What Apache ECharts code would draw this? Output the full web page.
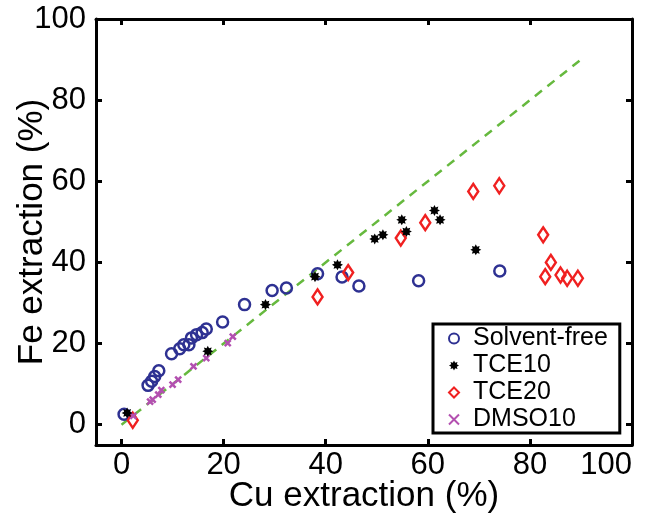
<!DOCTYPE html>
<html><head><meta charset="utf-8">
<script src="https://cdn.jsdelivr.net/npm/echarts@6/dist/echarts.min.js"></script>
<style>html,body{margin:0;padding:0;background:#fff}#c{width:645px;height:522px}</style>
</head><body><div id="c"></div>
<script>
const xTicks = [0, 20, 40, 60, 80, 100];
const yTicks = [0, 20, 40, 60, 80, 100];
const seriesNames = ['Solvent-free', 'TCE10', 'TCE20', 'DMSO10'];
const solventFreeX = [0.5,5.2,5.9,6.5,7.3,9.8,11.4,12.2,13.2,13.7,14.7,15.8,16.6,19.8,24.1,29.5,32.3,38.4,43.2,46.5,58.2,74.1];
const solventFreeY = [2.6,9.7,10.7,11.9,13.3,17.5,18.7,19.7,19.7,21.4,22.2,22.7,23.6,25.3,29.6,33.1,33.7,37.2,36.4,34.2,35.5,37.9];
const tce10X = [1.1,16.9,28.2,37.9,42.3,49.6,51.2,54.9,55.8,61.3,62.4,69.4];
const tce10Y = [2.9,18.1,29.6,36.5,39.4,45.8,46.8,50.5,47.6,52.8,50.5,43.1];
const tce20X = [2.2,38.4,44.4,54.7,59.5,68.9,74.0,82.6,84.1,83.0,86.0,87.3,89.4];
const tce20Y = [1.1,31.5,37.5,46.0,49.8,57.5,58.9,46.8,40.0,36.5,36.9,36.1,36.1];
const dmso10X = [2.3,5.6,6.1,7.2,7.8,10.0,11.1,14.1,16.6,20.8,21.8];
const dmso10Y = [2.2,5.7,6.2,7.4,8.5,9.9,11.1,14.4,16.4,20.1,21.7];
const refLineX = [0, 90];
const refLineY = [0, 90];

function pairs(xs, ys) { return xs.map((x, i) => [x, ys[i]]); }

// asterisk-like star symbol
let star = 'path://';
for (let i = 0; i < 16; i++) {
  const a = Math.PI * i / 8;
  const r = i % 2 === 0 ? 10 : 6;
  star += (i === 0 ? 'M' : 'L') + (10 + r * Math.sin(a)).toFixed(2) + ' ' + (10 - r * Math.cos(a)).toFixed(2) + ' ';
}
star += 'Z';
const cross = 'path://M0 0 L10 10 M10 0 L0 10';

const font = 'Liberation Sans, Arial, sans-serif';
const axisCommon = {
  min: -5, max: 100,
  splitLine: { show: false },
  axisLine: { show: true, onZero: false, lineStyle: { color: '#000', width: 3 } },
  axisTick: { show: true, inside: true, length: 6, customValues: xTicks, lineStyle: { color: '#000', width: 3 } }
};

const chart = echarts.init(document.getElementById('c'));
chart.setOption({
  animation: false,
  backgroundColor: '#fff',
  grid: { left: 96, right: 13, top: 19, bottom: 77, containLabel: false, outerBoundsMode: 'none' },
  xAxis: [
    Object.assign({}, axisCommon, {
      type: 'value', position: 'bottom',
      name: 'Cu extraction (%)', nameLocation: 'middle', nameGap: 34, nameMoveOverlap: false,
      nameTextStyle: { fontFamily: font, fontSize: 35, color: '#000' },
      axisLabel: { customValues: xTicks, fontFamily: font, fontSize: 31, color: '#000', margin: 5, alignMaxLabel: 'right' }
    }),
    Object.assign({}, axisCommon, { type: 'value', position: 'top', axisLabel: { show: false } })
  ],
  yAxis: [
    Object.assign({}, axisCommon, {
      type: 'value', position: 'left',
      axisTick: Object.assign({}, axisCommon.axisTick, { customValues: yTicks }),
      name: 'Fe extraction (%)', nameLocation: 'middle', nameGap: 46, nameRotate: 90, nameMoveOverlap: false,
      nameTextStyle: { fontFamily: font, fontSize: 35, color: '#000' },
      axisLabel: { customValues: yTicks, fontFamily: font, fontSize: 31, color: '#000', margin: 10 }
    }),
    Object.assign({}, axisCommon, {
      type: 'value', position: 'right',
      axisTick: Object.assign({}, axisCommon.axisTick, { customValues: yTicks }),
      axisLabel: { show: false }
    })
  ],
  legend: {
    data: seriesNames,
    orient: 'vertical', left: 433, top: 324,
    padding: [1, 12, 0, 15],
    itemGap: 0, itemWidth: 10, itemHeight: 10,
    borderColor: '#000', borderWidth: 3,
    textStyle: { fontFamily: font, fontSize: 25, lineHeight: 27, color: '#000', padding: [0, 0, 0, 9] }
  },
  series: [
    { type: 'line', data: pairs(refLineX, refLineY), symbol: 'none', silent: true, z: 1,
      lineStyle: { color: '#66b93e', width: 2.5, type: [9, 7] } },
    { name: 'Solvent-free', type: 'scatter', data: pairs(solventFreeX, solventFreeY), symbol: 'circle', symbolSize: 11, z: 3,
      itemStyle: { color: 'rgba(0,0,0,0)', borderColor: '#2e3192', borderWidth: 2.5, opacity: 1 } },
    { name: 'TCE10', type: 'scatter', data: pairs(tce10X, tce10Y), symbol: star, symbolSize: 11, z: 4,
      itemStyle: { color: '#000', opacity: 1 } },
    { name: 'TCE20', type: 'scatter', data: pairs(tce20X, tce20Y), symbol: 'diamond', symbolSize: [10, 15], z: 3,
      itemStyle: { color: 'rgba(0,0,0,0)', borderColor: '#f02020', borderWidth: 2.5, opacity: 1 } },
    { name: 'DMSO10', type: 'scatter', data: pairs(dmso10X, dmso10Y), symbol: cross, symbolSize: 6, z: 3,
      itemStyle: { color: 'rgba(0,0,0,0)', borderColor: '#b350b0', borderWidth: 2.5, opacity: 1 } }
  ]
});
</script>
</body></html>
